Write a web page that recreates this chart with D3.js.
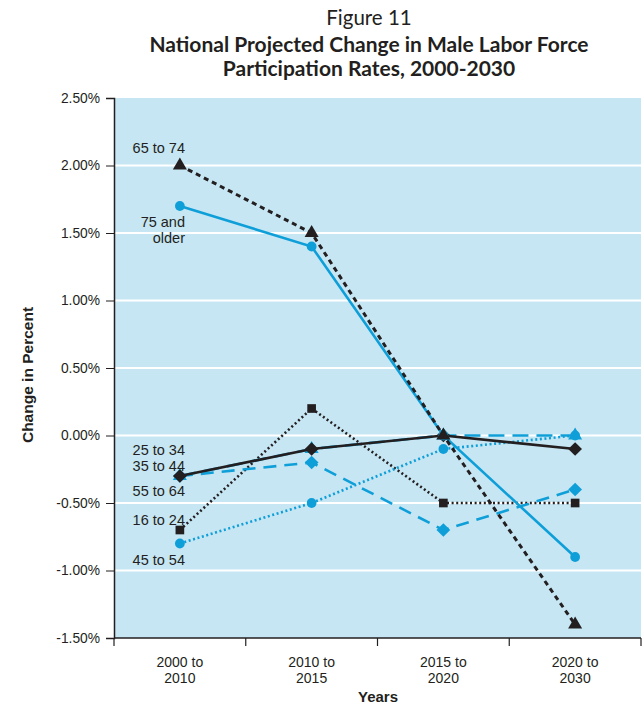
<!DOCTYPE html>
<html lang="en">
<head>
<meta charset="utf-8">
<title>Figure 11</title>
<script src="https://cdn.jsdelivr.net/npm/d3@7"></script>
<style>
  body { margin: 0; background: #fff; }
  text { font-family: "Liberation Sans", Arial, sans-serif; fill: #231f20; }
  .title { font-family: "Lato", "Open Sans", sans-serif; }
</style>
</head>
<body>
<script>
// Data
var periods = ["2000 to|2010", "2010 to|2015", "2015 to|2020", "2020 to|2030"];
var yTicks = [2.5, 2.0, 1.5, 1.0, 0.5, 0.0, -0.5, -1.0, -1.5];

var age16to24 = [-0.7, 0.2, -0.5, -0.5];
var age25to34 = [-0.3, -0.1, 0.0, 0.0];
var age35to44 = [-0.3, -0.1, 0.0, -0.1];
var age45to54 = [-0.8, -0.5, -0.1, 0.0];
var age55to64 = [-0.3, -0.2, -0.7, -0.4];
var age65to74 = [2.0, 1.5, 0.0, -1.4];
var age75plus = [1.7, 1.4, 0.0, -0.9];

var blue = "#0f9fd8", black = "#231f20";

// Series styles (drawing order matters: blue dashed under the black solid)
var series = [
  {name: "16 to 24", values: age16to24, color: black, dash: "2,2.6", width: 2.6, marker: "square"},
  {name: "45 to 54", values: age45to54, color: blue, dash: "2,2.6", width: 2.6, marker: "circle"},
  {name: "55 to 64", values: age55to64, color: blue, dash: "13,8", width: 2.6, marker: "diamond"},
  {name: "25 to 34", values: age25to34, color: blue, dash: "16,8", width: 2.6, marker: "triangle"},
  {name: "35 to 44", values: age35to44, color: black, dash: null, width: 2.6, marker: "diamond"},
  {name: "75 and older", values: age75plus, color: blue, dash: null, width: 2.6, marker: "circle"},
  {name: "65 to 74", values: age65to74, color: black, dash: "5,4", width: 3, marker: "triangle"}
];

var margin = {top: 98, right: 0, bottom: 65, left: 114};
var width = 642, height = 705;
var plot_w = width - margin.left - margin.right - 1;
var plot_h = height - margin.top - margin.bottom - 2;

var svg = d3.select("body").append("svg")
  .attr("width", width).attr("height", height);

// Titles
svg.append("text").attr("class", "title")
  .attr("x", 369).attr("y", 25).attr("text-anchor", "middle")
  .style("font-size", "20.5px").text("Figure 11");
svg.append("text").attr("class", "title")
  .attr("x", 369).attr("y", 52).attr("text-anchor", "middle")
  .style("font-size", "21px").style("font-weight", "bold")
  .text("National Projected Change in Male Labor Force");
svg.append("text").attr("class", "title")
  .attr("x", 369).attr("y", 76).attr("text-anchor", "middle")
  .style("font-size", "21px").style("font-weight", "bold")
  .text("Participation Rates, 2000-2030");

var g = svg.append("g").attr("transform", "translate(" + margin.left + "," + margin.top + ")");

var xScale = d3.scaleBand().domain(periods).range([0, plot_w]);
var yScale = d3.scaleLinear().domain([-1.5, 2.5]).range([plot_h, 0]);

// Background
g.append("rect").attr("width", plot_w).attr("height", plot_h).attr("fill", "#c6e6f4");

// Grid lines
g.selectAll(".grid").data(yTicks.slice(1, -1)).enter().append("line")
  .attr("x1", 0).attr("x2", plot_w)
  .attr("y1", function(d) { return yScale(d); })
  .attr("y2", function(d) { return yScale(d); })
  .attr("stroke", "#fff").attr("stroke-width", 2);

// Y axis
var yAxis = d3.axisLeft(yScale).tickValues(yTicks).tickSize(8).tickPadding(6)
  .tickFormat(function(d) { return d.toFixed(2) + "%"; });
var ya = g.append("g").call(yAxis);
ya.selectAll("text").style("font-size", "13.8px").style("font-family", "Liberation Sans, Arial, sans-serif").attr("fill", black);
ya.selectAll("line").attr("stroke", black);
ya.select(".domain").attr("stroke", black).attr("stroke-width", 1.5);

// X axis with ticks at band edges
var xa = g.append("g").attr("transform", "translate(0," + plot_h + ")");
xa.append("line").attr("x1", 0).attr("x2", plot_w).attr("stroke", black).attr("stroke-width", 1.5);
var edges = periods.map(function(p) { return xScale(p); }).concat([plot_w]);
xa.selectAll(".xt").data(edges).enter().append("line")
  .attr("x1", function(d) { return d; }).attr("x2", function(d) { return d; })
  .attr("y1", 0).attr("y2", 8).attr("stroke", black).attr("stroke-width", 1.2);
var xl = xa.selectAll(".xl").data(periods).enter().append("text")
  .attr("text-anchor", "middle")
  .attr("transform", function(d) { return "translate(" + (xScale(d) + xScale.bandwidth() / 2) + ",0)"; })
  .style("font-size", "14px");
xl.append("tspan").attr("x", 0).attr("y", 29).text(function(d) { return d.split("|")[0]; });
xl.append("tspan").attr("x", 0).attr("y", 45).text(function(d) { return d.split("|")[1]; });

// Axis titles
svg.append("text").attr("x", 378).attr("y", 702).attr("text-anchor", "middle")
  .style("font-size", "15px").style("font-weight", "bold").text("Years");
svg.append("text").attr("transform", "translate(33,375) rotate(-90)").attr("text-anchor", "middle")
  .style("font-size", "15.5px").style("font-weight", "bold").text("Change in Percent");

// Lines
var line = d3.line()
  .x(function(d, i) { return xScale(periods[i]) + xScale.bandwidth() / 2; })
  .y(function(d) { return yScale(d); });

var symbols = {
  square: d3.symbol().type(d3.symbolSquare).size(75),
  circle: d3.symbol().type(d3.symbolCircle).size(75),
  diamond: d3.symbol().type(d3.symbolDiamond2).size(120),
  triangle: d3.symbol().type(d3.symbolTriangle).size(85)
};

series.forEach(function(s) {
  g.append("path").datum(s.values).attr("d", line)
    .attr("fill", "none").attr("stroke", s.color)
    .attr("stroke-width", s.width)
    .attr("stroke-dasharray", s.dash);
  g.selectAll(null).data(s.values).enter().append("path")
    .attr("d", symbols[s.marker])
    .attr("transform", function(d, i) {
      return "translate(" + (xScale(periods[i]) + xScale.bandwidth() / 2) + "," + yScale(d) + ")";
    })
    .attr("fill", s.color);
});

// Series labels on the left
var labels = [
  {lines: ["65 to 74"], y: 153},
  {lines: ["75 and", "older"], y: 227},
  {lines: ["25 to 34"], y: 455},
  {lines: ["35 to 44"], y: 471},
  {lines: ["55 to 64"], y: 496},
  {lines: ["16 to 24"], y: 525},
  {lines: ["45 to 54"], y: 565}
];
labels.forEach(function(l) {
  var t = svg.append("text").attr("text-anchor", "end").style("font-size", "14.5px");
  l.lines.forEach(function(s, i) {
    t.append("tspan").attr("x", 185).attr("y", l.y + i * 16).text(s);
  });
});
</script>
</body>
</html>
